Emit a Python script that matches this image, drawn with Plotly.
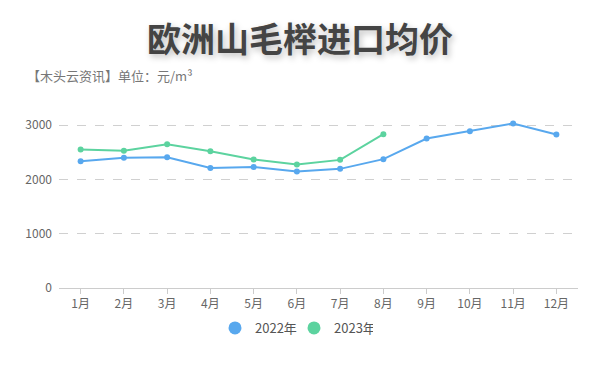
import plotly.graph_objects as go

months = ["1月", "2月", "3月", "4月", "5月", "6月", "7月", "8月", "9月", "10月", "11月", "12月"]
y2022 = [2337, 2399, 2411, 2214, 2232, 2148, 2196, 2375, 2756, 2891, 3033, 2830]
y2023 = [2553, 2528, 2651, 2522, 2369, 2277, 2362, 2836]
series_names = ["2022年", "2023年"]
yticks = [0, 1000, 2000, 3000]

BLUE = "#58a8ee"
GREEN = "#5cd39f"
FONT = "Noto Sans CJK SC"

fig = go.Figure()
for vals, name, col in [(y2022, series_names[0], BLUE), (y2023, series_names[1], GREEN)]:
    fig.add_trace(go.Scatter(
        x=months[:len(vals)], y=vals, name=name, mode="lines+markers",
        line=dict(color=col, width=2), marker=dict(color=col, size=6),
        showlegend=False, cliponaxis=False, hoverinfo="skip",
    ))
for name, col in [(series_names[0], BLUE), (series_names[1], GREEN)]:
    fig.add_trace(go.Scatter(
        x=[None], y=[None], name=name, mode="markers",
        marker=dict(color=col, size=13), showlegend=True,
    ))

fig.update_layout(
    width=600, height=368,
    margin=dict(l=59, r=22, t=122, b=80, autoexpand=False),
    paper_bgcolor="white", plot_bgcolor="white",
    font=dict(family=FONT, size=12, color="#666"),
    showlegend=True, hovermode=False,
    legend=dict(
        orientation="h", x=0.49, xanchor="center", xref="container",
        y=(368 - 328) / 368, yanchor="middle", yref="container",
        font=dict(size=13, color="#555"),
        itemwidth=30, tracegroupgap=0, entrywidth=34, entrywidthmode="pixels",
    ),
    xaxis=dict(
        type="category", range=[-0.5, 11.5],
        showgrid=False, showline=True, linecolor="#ccc", linewidth=1,
        ticks="outside", ticklen=5, tickcolor="#ccc",
        tickfont=dict(size=12, color="#666"), fixedrange=True,
    ),
    yaxis=dict(
        range=[0, 3060], tickvals=yticks, showgrid=True, gridcolor="#d0d0d0",
        griddash="dash", gridwidth=1, zeroline=False, showline=False,
        tickfont=dict(size=12, color="#666"), ticklabelstandoff=6,
        fixedrange=True,
    ),
)

fig.add_annotation(
    text="<b>欧洲山毛榉进口均价</b>", xref="paper", yref="paper",
    x=0.5, y=(368 - 38 - 80) / 166, xanchor="center", yanchor="middle",
    xshift=-19, showarrow=False,
    font=dict(family=FONT, size=34, color="#444", shadow="2px 3px 6px rgba(0,0,0,0.25)"),
)
fig.add_annotation(
    text="【木头云资讯】单位：元/m³", xref="paper", yref="paper",
    x=-(59 - 25) / 519, y=(368 - 75 - 80) / 166, xanchor="left", yanchor="middle",
    showarrow=False,
    font=dict(family=FONT, size=13, color="#777"),
)

fig.write_html("out.html", config={"displayModeBar": False},
               post_script="document.body.style.margin='0';")
